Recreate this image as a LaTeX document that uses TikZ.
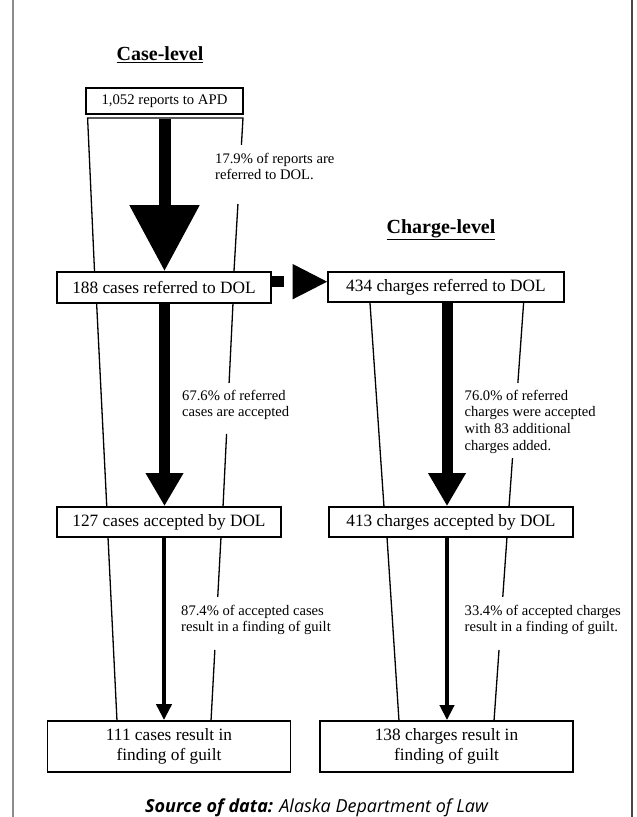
\documentclass[tikz,border=0pt]{standalone}
\usepackage{fontspec}
\setmainfont{Liberation Serif}
\newfontfamily\srcfont{Open Sans}
\usetikzlibrary{arrows.meta,calc}
\definecolor{frameL}{RGB}{140,140,140}
\definecolor{frameR}{RGB}{70,70,70}
\begin{document}
\begin{tikzpicture}[x=1pt,y=-1pt,
  box/.style={draw, line width=1.8pt, inner sep=0pt, align=center, font=\fontsize{17.3}{19.5}\selectfont},
  smallbox/.style={box, font=\fontsize{14.7}{17}\selectfont},
  note/.style={inner sep=0pt, align=left, anchor=west, font=\fontsize{14.6}{16.7}\selectfont},
  title/.style={inner sep=0pt, font=\fontsize{20}{24}\selectfont\bfseries},
  funnel/.style={line width=1.3pt, line join=miter}
]
\fill[white] (0,0) rectangle (637,817);
\useasboundingbox (0,0) rectangle (637,817);
\draw[line width=2pt, frameL] (12.7,0) -- (12.7,817);
\draw[line width=1.6pt, frameR] (632,0) -- (632,817);

% titles
\node[title] (tc) at (160,55) {\underline{Case-level}};
\node[title] (tg) at (441,230) {\underline{Charge-level}};

% boxes
\node[smallbox, minimum width=157pt, minimum height=26pt] (A) at (164.5,101) {1,052 reports to APD};
\node[box, minimum width=214pt, minimum height=31pt] (B) at (164,287.5) {188 cases referred to DOL};
\node[box, minimum width=236pt, minimum height=30pt] (C) at (446,287) {434 charges referred to DOL};
\node[box, minimum width=224pt, minimum height=30pt] (D) at (169,522) {127 cases accepted by DOL};
\node[box, minimum width=244pt, minimum height=30pt] (E) at (451,522) {413 charges accepted by DOL};
\node[box, minimum width=243pt, minimum height=51pt] (F) at (169,746.5) {111 cases result in\\finding of guilt};
\node[box, minimum width=253pt, minimum height=51pt] (G) at (446.5,746.5) {138 charges result in\\finding of guilt};

% funnels
\draw[funnel] (94.5,271) -- (87.6,118) -- (243,118) -- ($(243,118)!0.176!(234,271)$);
\draw[funnel] ($(243,118)!0.562!(234,271)$) -- (234,271);
\draw[funnel] (96.6,303) -- (106.8,507);
\draw[funnel] (233,303) -- ($(233,303)!0.392!(223,507)$);
\draw[funnel] ($(233,303)!0.642!(223,507)$) -- (223,507);
\draw[funnel] (108,537) -- (117,721);
\draw[funnel] (221,537) -- ($(221,537)!0.326!(211,721)$);
\draw[funnel] ($(221,537)!0.614!(211,721)$) -- (211,721);
\draw[funnel] (370,303) -- (384,507);
\draw[funnel] (523.6,303) -- ($(523.6,303)!0.392!(509,507)$);
\draw[funnel] ($(523.6,303)!0.760!(509,507)$) -- (509,507);
\draw[funnel] (387,537) -- (399,721);
\draw[funnel] (507,537) -- ($(507,537)!0.326!(494,721)$);
\draw[funnel] ($(507,537)!0.614!(494,721)$) -- (494,721);

% notes
\node[note] (n1) at (215,166.5) {17.9\% of reports are\\referred to DOL.};
\node[note] (n2) at (182,405) {67.6\% of referred\\cases are accepted};
\node[note] (n3) at (181,620) {87.4\% of accepted cases\\result in a finding of guilt};
\node[note] (n4) at (464.5,421.7) {76.0\% of referred\\charges were accepted\\with 83 additional\\charges added.};
\node[note] (n5) at (464.5,620) {33.4\% of accepted charges\\result in a finding of guilt.};

% flow arrows
\draw[line width=12pt, -{Triangle[length=66pt,width=67pt]}] ([yshift=-4pt]A.south) -- (A.south |- B.north);
\draw[line width=11pt, -{Triangle[length=33pt,width=35.5pt]}] ([xshift=0.5pt]B.south) -- ([xshift=0.5pt]B.south |- D.north);
\draw[line width=4.5pt, -{Triangle[length=16pt,width=15pt]}] (B.south |- D.south) -- (B.south |- F.north);
\draw[line width=11pt, -{Triangle[length=33pt,width=35.5pt]}] ([xshift=1pt]C.south) -- ([xshift=1pt]C.south |- E.north);
\draw[line width=4pt, -{Triangle[length=15pt,width=14pt]}] ([xshift=1pt]C.south |- E.south) -- ([xshift=1pt]C.south |- G.north);
% horizontal connector B -> C
\fill ($(B.east)+(0,-11.5)$) rectangle ($(B.east)+(11.7,-0.8)$);
\fill ($(C.west)+(0,-5.3)$) -- ($(C.west)+(-34.4,-23)$) -- ($(C.west)+(-34.4,12.3)$) -- cycle;

% source
\node (src) at (316.5,808) {\srcfont\fontsize{18}{20}\selectfont\bfseries\itshape Source of data: \mdseries Alaska Department of Law};
\end{tikzpicture}
\end{document}
